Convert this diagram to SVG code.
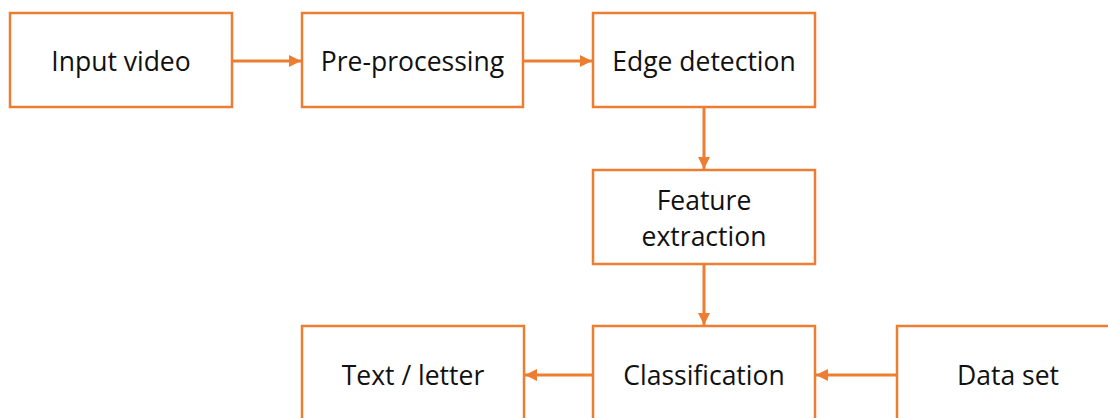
<svg xmlns="http://www.w3.org/2000/svg" width="1108" height="418" viewBox="0 0 1108 418">
<style>
.box{fill:#fff;stroke:#ED7D31;stroke-width:2.5}
.lbl{font-family:"Open Sans",sans-serif;font-size:26.5px;fill:#111;text-anchor:middle}
.con{stroke:#ED7D31;stroke-width:3;fill:none;marker-end:url(#ah)}
</style>
<defs>
<marker id="ah" viewBox="0 0 10 10" refX="10" refY="5" markerWidth="4" markerHeight="4" markerUnits="strokeWidth" orient="auto">
<path d="M0,0 L10,5 L0,10 z" fill="#ED7D31"/>
</marker>
</defs>
<rect width="1108" height="418" fill="#fff"/>
<g id="connectors">
<line class="con" x1="233" y1="61" x2="301" y2="61"/>
<line class="con" x1="524" y1="61" x2="592" y2="61"/>
<line class="con" x1="704" y1="108" x2="704" y2="169"/>
<line class="con" x1="704" y1="265" x2="704" y2="325"/>
<line class="con" x1="592" y1="375" x2="525" y2="375"/>
<line class="con" x1="896" y1="375" x2="816" y2="375"/>
</g>
<g id="input-video"><rect class="box" x="10" y="13" width="222" height="94"/><text class="lbl" x="121" y="71">Input video</text></g>
<g id="pre-processing"><rect class="box" x="302" y="13" width="221" height="94"/><text class="lbl" x="412.5" y="71">Pre-processing</text></g>
<g id="edge-detection"><rect class="box" x="593" y="13" width="222" height="94"/><text class="lbl" x="704" y="71">Edge detection</text></g>
<g id="feature-extraction"><rect class="box" x="593" y="170" width="222" height="94"/><text class="lbl" x="704" y="210">Feature</text><text class="lbl" x="704" y="246">extraction</text></g>
<g id="text-letter"><rect class="box" x="302" y="326" width="222" height="100"/><text class="lbl" x="413" y="385">Text / letter</text></g>
<g id="classification"><rect class="box" x="593" y="326" width="222" height="100"/><text class="lbl" x="704" y="385">Classification</text></g>
<g id="data-set"><rect class="box" x="897" y="326" width="222" height="100"/><text class="lbl" x="1008" y="385">Data set</text></g>
</svg>
